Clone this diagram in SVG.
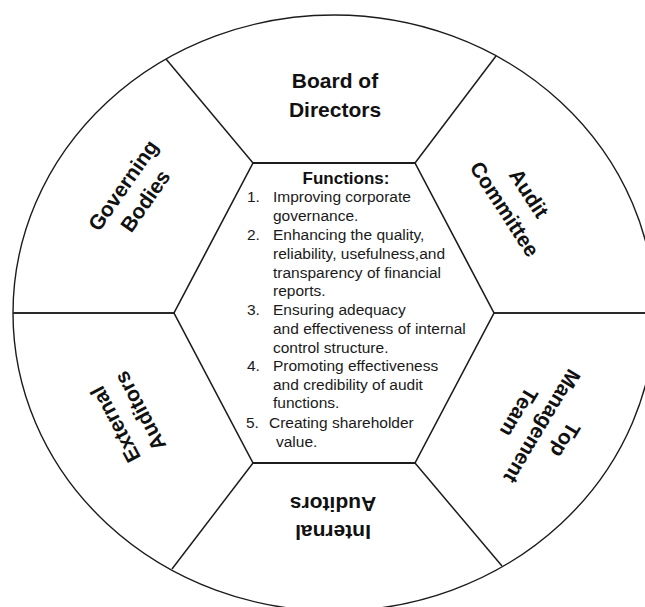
<svg xmlns="http://www.w3.org/2000/svg" width="645" height="607" viewBox="0 0 645 607">
  <style>
    .rim { fill: none; stroke: #1c1c1c; stroke-width: 1.4; }
    .hex { fill: none; stroke: #1c1c1c; stroke-width: 1.6; stroke-linejoin: miter; }
    .flat { stroke: #1c1c1c; stroke-width: 2.2; }
    .div { stroke: #1c1c1c; stroke-width: 1.5; fill: none; }
    .hdiv { stroke: #2a2a2a; stroke-width: 2; fill: none; }
    .lbl { font-family: "Liberation Sans", Arial, Helvetica, sans-serif; font-size: 21px; font-weight: bold; fill: #111; text-anchor: middle; }
    .head { font-family: "Liberation Sans", Arial, Helvetica, sans-serif; font-size: 17px; font-weight: bold; fill: #111; text-anchor: middle; }
    .fn { font-family: "Liberation Sans", Arial, Helvetica, sans-serif; font-size: 15.5px; fill: #1a1a1a; }
  </style>
  <rect width="645" height="607" fill="#ffffff"/>

  <!-- outer ring -->
  <ellipse class="rim" cx="334" cy="313" rx="321" ry="298"/>

  <!-- spokes between the sectors -->
  <g id="connectors">
    <line class="div" x1="253" y1="163" x2="166" y2="59"/>
    <line class="div" x1="415" y1="163" x2="496" y2="56"/>
    <line class="hdiv" x1="174" y1="313" x2="13" y2="313"/>
    <line class="hdiv" x1="494" y1="313" x2="656" y2="313"/>
    <line class="div" x1="253" y1="463" x2="172" y2="569"/>
    <line class="div" x1="415" y1="463" x2="502" y2="566"/>
  </g>

  <!-- centre hexagon with the list of functions -->
  <g id="functions">
    <polygon class="hex" points="253,163 415,163 494,313 415,463 253,463 174,313"/>
    <line class="flat" x1="253" y1="163" x2="415" y2="163"/>
    <line class="flat" x1="253" y1="463" x2="415" y2="463"/>
    <text class="head" x="346" y="184">Functions:</text>
    <g class="fn">
      <text x="247" y="202">1.</text><text x="273" y="202">Improving corporate</text>
      <text x="273" y="221">governance.</text>
      <text x="247" y="240">2.</text><text x="273" y="240">Enhancing the quality,</text>
      <text x="273" y="259">reliability, usefulness,and</text>
      <text x="273" y="278">transparency of financial</text>
      <text x="273" y="296">reports.</text>
      <text x="247" y="315">3.</text><text x="273" y="315">Ensuring adequacy</text>
      <text x="273" y="334">and effectiveness of internal</text>
      <text x="273" y="353">control structure.</text>
      <text x="247" y="371">4.</text><text x="273" y="371">Promoting effectiveness</text>
      <text x="273" y="390">and credibility of audit</text>
      <text x="273" y="408">functions.</text>
      <text x="246" y="428">5.</text><text x="269" y="428">Creating shareholder</text>
      <text x="276" y="447">value.</text>
    </g>
  </g>

  <g id="board-of-directors">
    <text class="lbl" x="335" y="88">Board of</text>
    <text class="lbl" x="335" y="117">Directors</text>
  </g>

  <g id="audit-committee" transform="translate(517,201) rotate(57)">
    <text class="lbl" x="0" y="-7">Audit</text>
    <text class="lbl" x="0" y="22">Committee</text>
  </g>

  <g id="top-management-team" transform="translate(542,426) rotate(121)">
    <text class="lbl" x="0" y="-20">Top</text>
    <text class="lbl" x="0" y="7">Management</text>
    <text class="lbl" x="0" y="34">Team</text>
  </g>

  <g id="internal-auditors" transform="translate(333,521) rotate(180)">
    <text class="lbl" x="0" y="-4">Internal</text>
    <text class="lbl" x="0" y="24">Auditors</text>
  </g>

  <g id="external-auditors" transform="translate(127,418) rotate(-118)">
    <text class="lbl" x="0" y="-6">External</text>
    <text class="lbl" x="0" y="22">Auditors</text>
  </g>

  <g id="governing-bodies" transform="translate(134,193) rotate(-55)">
    <text class="lbl" x="0" y="-6">Governing</text>
    <text class="lbl" x="0" y="21">Bodies</text>
  </g>
</svg>
